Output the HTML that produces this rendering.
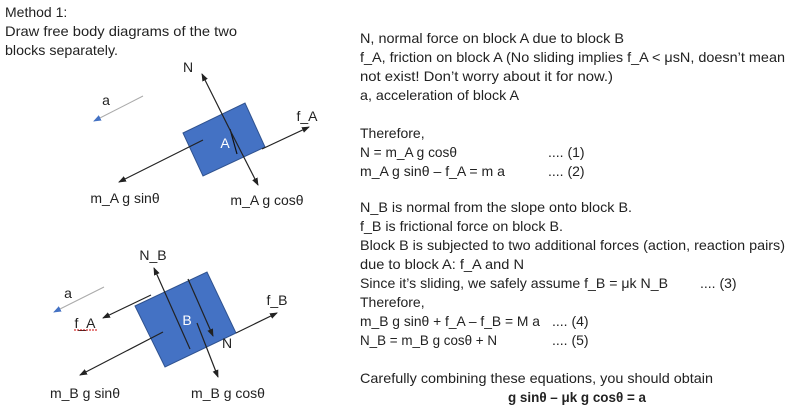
<!DOCTYPE html>
<html><head><meta charset="utf-8"><style>
html,body{margin:0;padding:0;background:#fff;}
svg{display:block;font-family:"Liberation Sans",sans-serif;}
</style></head><body>
<svg width="800" height="420" viewBox="0 0 800 420" xmlns="http://www.w3.org/2000/svg">
<defs>
<marker id="ah" markerWidth="8" markerHeight="8" refX="7" refY="4" orient="auto" markerUnits="userSpaceOnUse"><path d="M0,1 L8,4 L0,7 Z" fill="#222"/></marker>
<marker id="ab" markerWidth="8" markerHeight="8" refX="7" refY="4" orient="auto" markerUnits="userSpaceOnUse"><path d="M0,1 L8,4 L0,7 Z" fill="#4472c4"/></marker>
</defs>
<g font-size="14" fill="#222">
<text x="5" y="17">Method 1:</text>
<text x="5" y="36" textLength="232" lengthAdjust="spacingAndGlyphs">Draw free body diagrams of the two</text>
<text x="5" y="55" textLength="113" lengthAdjust="spacingAndGlyphs">blocks separately.</text>
</g>
<!-- Block A -->
<polygon points="183,133 245,103 265,147 203,176" fill="#4472c4" stroke="#2f528f" stroke-width="1"/>
<text x="225" y="148" font-size="14" fill="#fff" text-anchor="middle">A</text>
<line x1="230" y1="129" x2="237" y2="154" stroke="#111" stroke-width="1.2"/>
<line x1="230" y1="130" x2="202" y2="74" stroke="#222" stroke-width="1.2" marker-end="url(#ah)"/>
<line x1="230" y1="130" x2="258" y2="185" stroke="#222" stroke-width="1.2" marker-end="url(#ah)"/>
<line x1="203" y1="140" x2="119" y2="182" stroke="#222" stroke-width="1.2" marker-end="url(#ah)"/>
<line x1="262" y1="149" x2="309" y2="127" stroke="#222" stroke-width="1.2" marker-end="url(#ah)"/>
<line x1="143" y1="96" x2="94" y2="121" stroke="#aaa" stroke-width="1" marker-end="url(#ab)"/>
<g font-size="14" fill="#222">
<text x="188" y="72" text-anchor="middle">N</text>
<text x="106" y="105" text-anchor="middle">a</text>
<text x="307" y="121" text-anchor="middle">f_A</text>
<text x="125" y="203" text-anchor="middle">m_A g sinθ</text>
<text x="267" y="205" text-anchor="middle">m_A g cosθ</text>
</g>
<!-- Block B -->
<polygon points="135,306 207,272 236,333 165,367" fill="#4472c4" stroke="#2f528f" stroke-width="1"/>
<text x="187" y="325" font-size="14" fill="#fff" text-anchor="middle">B</text>
<line x1="190" y1="349" x2="154" y2="268" stroke="#222" stroke-width="1.2" marker-end="url(#ah)"/>
<line x1="197" y1="323" x2="218" y2="377" stroke="#222" stroke-width="1.2" marker-end="url(#ah)"/>
<line x1="188" y1="279" x2="213" y2="336" stroke="#222" stroke-width="1.2" marker-end="url(#ah)"/>
<line x1="163" y1="332" x2="80" y2="375" stroke="#222" stroke-width="1.2" marker-end="url(#ah)"/>
<line x1="151" y1="295" x2="103" y2="318" stroke="#222" stroke-width="1.2" marker-end="url(#ah)"/>
<line x1="236" y1="333" x2="277" y2="313" stroke="#222" stroke-width="1.2" marker-end="url(#ah)"/>
<line x1="104" y1="287" x2="54" y2="312" stroke="#aaa" stroke-width="1" marker-end="url(#ab)"/>
<g font-size="14" fill="#222">
<text x="153" y="260" text-anchor="middle">N_B</text>
<text x="68" y="298" text-anchor="middle">a</text>
<text x="85" y="328" text-anchor="middle">f_A</text>
<text x="227" y="348" text-anchor="middle">N</text>
<text x="277" y="305" text-anchor="middle">f_B</text>
<text x="85" y="398" text-anchor="middle">m_B g sinθ</text>
<text x="228" y="398" text-anchor="middle">m_B g cosθ</text>
</g>
<line x1="74" y1="330" x2="97" y2="330" stroke="#c00" stroke-width="1" stroke-dasharray="2,1"/>
<!-- Right text -->
<g font-size="14" fill="#222">
<text x="360" y="43" textLength="264" lengthAdjust="spacingAndGlyphs">N, normal force on block A due to block B</text>
<text x="360" y="62" textLength="425" lengthAdjust="spacingAndGlyphs">f_A, friction on block A (No sliding implies f_A &lt; μsN, doesn’t mean</text>
<text x="360" y="81" textLength="253" lengthAdjust="spacingAndGlyphs">not exist! Don’t worry about it for now.)</text>
<text x="360" y="100" textLength="159" lengthAdjust="spacingAndGlyphs">a, acceleration of block A</text>
<text x="360" y="138">Therefore,</text>
<text x="360" y="157" textLength="97" lengthAdjust="spacingAndGlyphs">N = m_A g cosθ</text>
<text x="548" y="157">.... (1)</text>
<text x="360" y="176" textLength="145" lengthAdjust="spacingAndGlyphs">m_A g sinθ – f_A = m a</text>
<text x="548" y="176">.... (2)</text>
<text x="360" y="212" textLength="272" lengthAdjust="spacingAndGlyphs">N_B is normal from the slope onto block B.</text>
<text x="360" y="231" textLength="203" lengthAdjust="spacingAndGlyphs">f_B is frictional force on block B.</text>
<text x="360" y="250" textLength="425" lengthAdjust="spacingAndGlyphs">Block B is subjected to two additional forces (action, reaction pairs)</text>
<text x="360" y="269" textLength="164" lengthAdjust="spacingAndGlyphs">due to block A:  f_A and N</text>
<text x="360" y="288" textLength="308" lengthAdjust="spacingAndGlyphs">Since it’s sliding, we safely assume  f_B = μk N_B</text>
<text x="700" y="288">.... (3)</text>
<text x="360" y="307">Therefore,</text>
<text x="360" y="326" textLength="180" lengthAdjust="spacingAndGlyphs">m_B g sinθ + f_A – f_B = M a</text>
<text x="552" y="326">.... (4)</text>
<text x="360" y="345" textLength="137" lengthAdjust="spacingAndGlyphs">N_B = m_B g cosθ + N</text>
<text x="552" y="345">.... (5)</text>
<text x="360" y="383" textLength="353" lengthAdjust="spacingAndGlyphs">Carefully combining these equations, you should obtain</text>
<text x="577" y="402" text-anchor="middle" font-weight="bold" textLength="138" lengthAdjust="spacingAndGlyphs">g sinθ – μk g cosθ = a</text>
</g>
</svg>
</body></html>
